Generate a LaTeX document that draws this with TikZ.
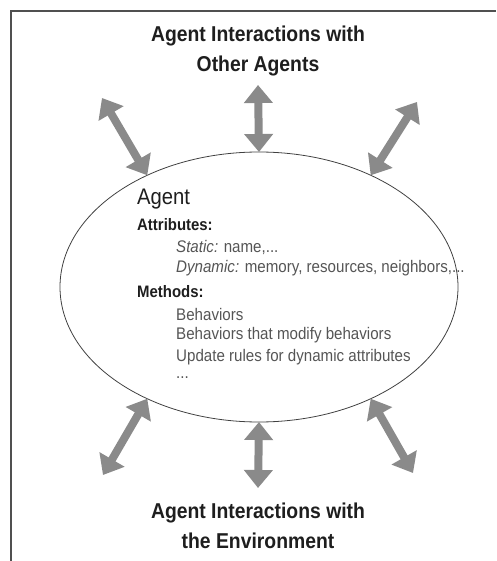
\documentclass[tikz,border=0pt]{standalone}
\usepackage{fontspec}
\setmainfont{Liberation Sans}[FakeStretch=0.9]
\usetikzlibrary{shapes.geometric,arrows.meta}
\definecolor{arrowgray}{HTML}{8A8A8A}
\definecolor{frameline}{HTML}{505050}
\definecolor{darktext}{HTML}{1E1E1E}
\definecolor{softtext}{HTML}{555555}
\begin{document}
\begin{tikzpicture}[x=1pt,y=-1pt,
  title/.style={font=\fontsize{21.5}{30}\selectfont\bfseries, text=darktext, align=center, inner sep=0pt},
  heading/.style={font=\fontsize{16.6}{18}\selectfont\bfseries, text=darktext, anchor=west, inner sep=0pt},
  item/.style={font=\fontsize{16.8}{18}\selectfont, text=softtext, anchor=west, inner sep=0pt},
  link/.style={draw=arrowgray, line width=8pt,
    {Triangle[width=28pt,length=18pt]}-{Triangle[width=28pt,length=18pt]}},
]
\useasboundingbox (0,0) rectangle (496,561);
% open frame: top and left edges only
\draw[frameline, line width=1.6pt] (11,561) -- (11,11) -- (496,11);

% the agent
\node[draw=darktext!85, line width=0.8pt, ellipse, minimum width=398pt, minimum height=270pt,
      inner sep=0pt, outer sep=0pt] (agent) at (259,287) {};

% titles
\node[title] (others) at (258,51) {Agent Interactions with\\Other Agents};
\node[title] (env) at (258,526) {Agent Interactions with\\the Environment};

% agent contents
\node[font=\fontsize{22.5}{24}\selectfont, text=darktext, anchor=west, inner sep=0pt] (name) at (137,199) {Agent};
\node[heading] (attr) at (137,225) {Attributes:};
\node[item] (static) at (176,247) {\textit{Static:} name,...};
\node[item] (dynamic) at (176,268) {\textit{Dynamic:} memory, resources, neighbors,...};
\node[heading] (meth) at (137,292) {Methods:};
\node[item] (beh) at (176,314) {Behaviors};
\node[item] (modify) at (176,335) {Behaviors that modify behaviors};
\node[item] (update) at (176,357) {Update rules for dynamic attributes};
\node[item] (more) at (176,378) {...};

% free ends of the interaction arrows
\coordinate (tl) at (102,98);
\coordinate (tm) at (258,85);
\coordinate (tr) at (417,102);
\coordinate (bl) at (103,475);
\coordinate (bm) at (258,488);
\coordinate (br) at (413,473);

\draw[link] (tl) -- (agent.135);
\draw[link] (tm) -- (agent.north);
\draw[link] (tr) -- (agent.45);
\draw[link] (bl) -- (agent.225);
\draw[link] (bm) -- (agent.south);
\draw[link] (br) -- (agent.315);
\end{tikzpicture}
\end{document}
